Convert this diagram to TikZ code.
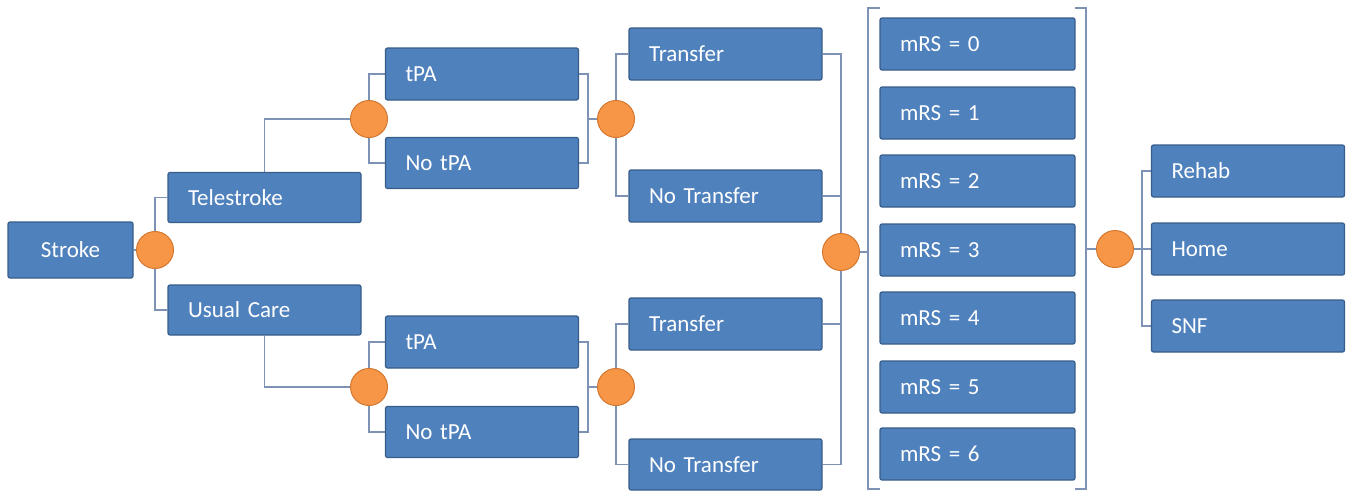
\documentclass[tikz,border=0pt]{standalone}
\usepackage{fontspec}
\setmainfont{Carlito}[WordSpace=0.6]
\usetikzlibrary{backgrounds}
\definecolor{boxfill}{RGB}{79,129,189}
\definecolor{boxline}{RGB}{56,93,138}
\definecolor{conn}{RGB}{125,146,180}
\definecolor{nodefill}{RGB}{247,150,70}
\definecolor{nodeline}{RGB}{210,120,50}
\tikzset{
  dbox/.style={draw=boxline, fill=boxfill, line width=1.2pt, rounded corners=2pt,
    text=white, font=\fontsize{23}{26}\selectfont, inner xsep=20pt, inner ysep=0pt,
    align=left, minimum height=52pt},
  w193/.style={text width=153pt},
  w195/.style={text width=155pt},
  chance/.style={circle, draw=nodeline, fill=nodefill, line width=1pt, minimum size=37pt, inner sep=0pt},
  link/.style={draw=conn, line width=1.5pt},
}
\begin{document}
\begin{tikzpicture}[x=1pt,y=-1pt]
\useasboundingbox (0,0) rectangle (1349,491);
% boxes
\node[dbox, align=center, minimum width=125pt, minimum height=56pt, inner xsep=0pt] (stroke) at (70.5,250) {Stroke};
\node[dbox, w193, minimum height=50pt] (tele) at (264.5,197.5) {Telestroke};
\node[dbox, w193, minimum height=50pt] (usual) at (264.5,310) {Usual Care};
\node[dbox, w193] (tpa1) at (482,74) {tPA};
\node[dbox, w193, minimum height=51pt] (notpa1) at (482,163) {No tPA};
\node[dbox, w193] (tpa2) at (482,342) {tPA};
\node[dbox, w193, minimum height=51pt] (notpa2) at (482,432) {No tPA};
\node[dbox, w193] (tr1) at (725.5,54) {Transfer};
\node[dbox, w193] (ntr1) at (725.5,196) {No Transfer};
\node[dbox, w193] (tr2) at (725.5,324) {Transfer};
\node[dbox, w193, minimum height=51pt] (ntr2) at (725.5,464.5) {No Transfer};
\node[dbox, w195] (m0) at (977.5,44) {mRS = 0};
\node[dbox, w195] (m1) at (977.5,113) {mRS = 1};
\node[dbox, w195] (m2) at (977.5,181) {mRS = 2};
\node[dbox, w195] (m3) at (977.5,250) {mRS = 3};
\node[dbox, w195] (m4) at (977.5,318) {mRS = 4};
\node[dbox, w195] (m5) at (977.5,387) {mRS = 5};
\node[dbox, w195] (m6) at (977.5,454) {mRS = 6};
\node[dbox, w193] (rehab) at (1248,171) {Rehab};
\node[dbox, w193] (home) at (1248,249) {Home};
\node[dbox, w193] (snf) at (1248,326) {SNF};
% chance nodes
\node[chance] (c0) at (155,250) {};
\node[chance] (c1) at (369,119) {};
\node[chance] (c2) at (616,119) {};
\node[chance] (c3) at (369,387) {};
\node[chance] (c4) at (616,387) {};
\node[chance] (c5) at (841,252) {};
\node[chance] (c6) at (1115,249) {};
% junction coordinates
\coordinate (j1) at (588,119);
\coordinate (j3) at (588,387);
\coordinate (bL) at (868,252);
\coordinate (bR) at (1086,249);
\coordinate (j6) at (1142,249);
\begin{scope}[on background layer]
\path[link] (stroke.east) -- (c0.center);
\path[link] (tele.west) -| (c0.center);
\path[link] (usual.west) -| (c0.center);
\path[link] (tele.north) |- (c1.center);
\path[link] (usual.south) |- (c3.center);
\path[link] (tpa1.west) -| (c1.center);
\path[link] (notpa1.west) -| (c1.center);
\path[link] (tpa2.west) -| (c3.center);
\path[link] (notpa2.west) -| (c3.center);
\path[link] (tpa1.east) -| (j1) |- (notpa1.east);
\path[link] (tpa2.east) -| (j3) |- (notpa2.east);
\path[link] (j1) -- (c2.center);
\path[link] (j3) -- (c4.center);
\path[link] (tr1.west) -| (c2.center);
\path[link] (ntr1.west) -| (c2.center);
\path[link] (tr2.west) -| (c4.center);
\path[link] (ntr2.west) -| (c4.center);
\path[link] (tr1.east) -| (c5.center);
\path[link] (ntr1.east) -| (c5.center);
\path[link] (tr2.east) -| (c5.center);
\path[link] (ntr2.east) -| (c5.center);
\path[link] (c5.center) -- (bL);
\path[link] (bR) -- (c6.center) -- (j6);
\path[link] (rehab.west) -| (j6);
\path[link] (snf.west) -| (j6);
\path[link] (home.west) -- (j6);
\end{scope}
% brackets
\path[link] (880,8) -- (868,8) -- (868,489) -- (880,489);
\path[link] (1075,8) -- (1086,8) -- (1086,489) -- (1075,489);
\end{tikzpicture}
\end{document}
